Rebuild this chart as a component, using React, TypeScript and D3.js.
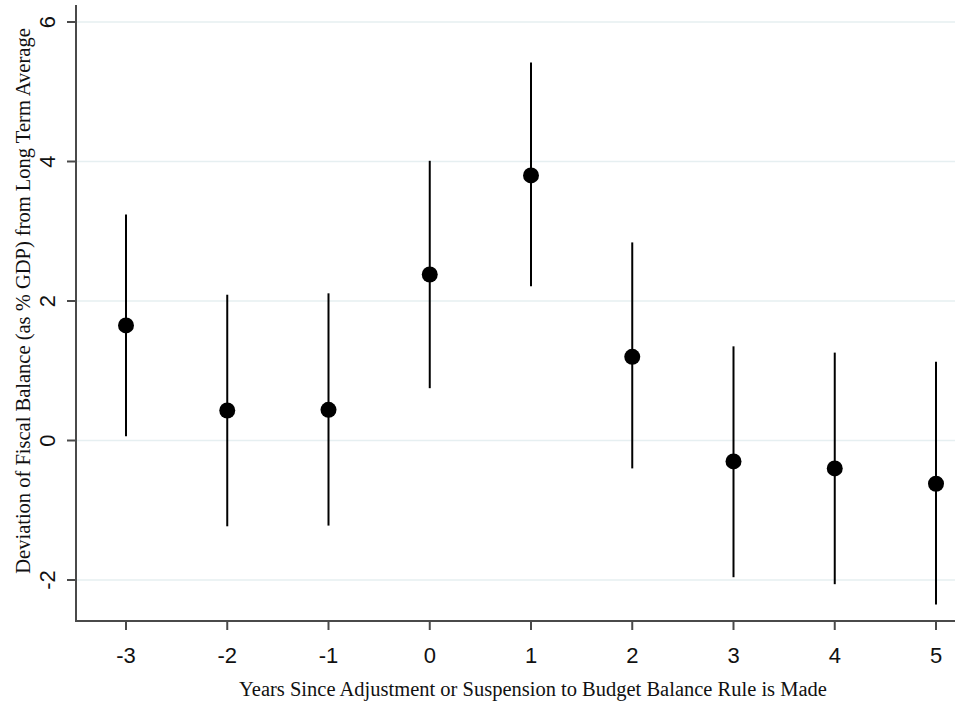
import React, { useEffect, useRef } from 'react'
import * as d3 from 'd3'

const years = [-3, -2, -1, 0, 1, 2, 3, 4, 5]
const estimates = [1.65, 0.43, 0.44, 2.38, 3.8, 1.2, -0.3, -0.4, -0.62]
const upper = [3.24, 2.09, 2.11, 4.01, 5.42, 2.84, 1.35, 1.26, 1.13]
const lower = [0.06, -1.23, -1.22, 0.75, 2.21, -0.4, -1.96, -2.06, -2.35]
const yTicks = [-2, 0, 2, 4, 6]

const W = 955
const H = 704

export default function App() {
  const ref = useRef<SVGSVGElement>(null)

  useEffect(() => {
    const svg = d3.select(ref.current)
    svg.selectAll('*').remove()

    const x = d3.scaleLinear().domain([-3, 5]).range([126, 936])
    const y = d3.scaleLinear().domain([-2, 6]).range([580, 22])
    const left = 76, bottom = 621

    // grid
    svg.append('g').selectAll('line')
      .data(yTicks)
      .enter().append('line')
      .attr('x1', left).attr('x2', W)
      .attr('y1', d => y(d)).attr('y2', d => y(d))
      .attr('stroke', '#e6eff1').attr('stroke-width', 1.5)

    // axes
    svg.append('line')
      .attr('x1', left).attr('x2', left).attr('y1', 5).attr('y2', bottom + 1)
      .attr('stroke', '#4a4a4a').attr('stroke-width', 2)
    svg.append('line')
      .attr('x1', left - 1).attr('x2', W).attr('y1', bottom).attr('y2', bottom)
      .attr('stroke', '#4a4a4a').attr('stroke-width', 2)

    const yt = svg.append('g').selectAll('g').data(yTicks).enter().append('g')
    yt.append('line')
      .attr('x1', left - 9).attr('x2', left)
      .attr('y1', d => y(d)).attr('y2', d => y(d))
      .attr('stroke', '#4a4a4a').attr('stroke-width', 2)
    yt.append('text')
      .attr('transform', d => `translate(55,${y(d)}) rotate(-90)`)
      .attr('text-anchor', 'middle')
      .attr('font-family', 'Liberation Sans, Arial, sans-serif')
      .attr('font-size', 22)
      .attr('fill', '#111')
      .text(d => d)

    const xt = svg.append('g').selectAll('g').data(years).enter().append('g')
    xt.append('line')
      .attr('x1', d => x(d)).attr('x2', d => x(d))
      .attr('y1', bottom).attr('y2', bottom + 9)
      .attr('stroke', '#4a4a4a').attr('stroke-width', 2)
    xt.append('text')
      .attr('x', d => x(d)).attr('y', 663)
      .attr('text-anchor', 'middle')
      .attr('font-family', 'Liberation Sans, Arial, sans-serif')
      .attr('font-size', 22)
      .attr('fill', '#111')
      .text(d => d)

    // error bars
    svg.append('g').selectAll('line')
      .data(years)
      .enter().append('line')
      .attr('x1', d => x(d)).attr('x2', d => x(d))
      .attr('y1', (d, i) => y(upper[i])).attr('y2', (d, i) => y(lower[i]))
      .attr('stroke', '#000').attr('stroke-width', 2)

    // points
    svg.append('g').selectAll('circle')
      .data(years)
      .enter().append('circle')
      .attr('cx', d => x(d)).attr('cy', (d, i) => y(estimates[i]))
      .attr('r', 8)
      .attr('fill', '#000')

    // titles
    svg.append('text')
      .attr('x', 533).attr('y', 696)
      .attr('text-anchor', 'middle')
      .attr('font-family', 'Liberation Serif, Times New Roman, serif')
      .attr('font-size', 20.5)
      .attr('fill', '#111')
      .text('Years Since Adjustment or Suspension to Budget Balance Rule is Made')
    svg.append('text')
      .attr('transform', 'translate(30,301) rotate(-90)')
      .attr('text-anchor', 'middle')
      .attr('font-family', 'Liberation Serif, Times New Roman, serif')
      .attr('font-size', 20.5)
      .attr('fill', '#111')
      .text('Deviation of Fiscal Balance (as % GDP) from Long Term Average')
  }, [])

  return (
    <div style={{ position: 'absolute', left: 0, top: 0 }}>
      <svg ref={ref} width={W} height={H} style={{ display: 'block', background: '#fff' }} />
    </div>
  )
}
